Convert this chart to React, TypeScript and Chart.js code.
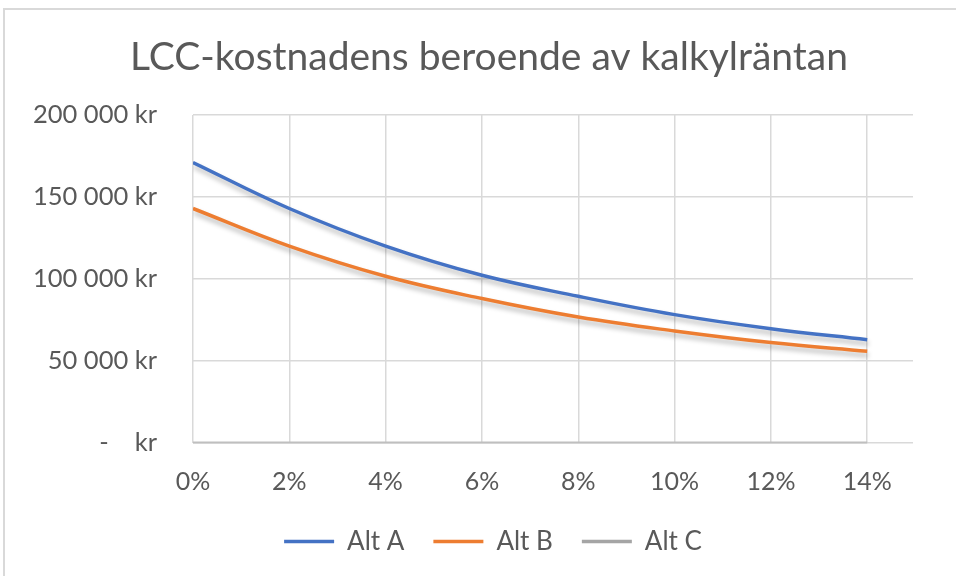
import React, { useEffect, useRef } from 'react';
import { Chart, registerables } from 'chart.js';

Chart.register(...registerables);

const chartTitle = 'LCC-kostnadens beroende av kalkylräntan';
const rates = [0, 2, 4, 6, 8, 10, 12, 14];
const altA = [171000, 142900, 119900, 102100, 89300, 78100, 69500, 62800];
const altB = [142900, 119900, 101500, 87900, 76600, 68100, 61000, 55700];
const altC: number[] = [];
const seriesNames = ['Alt A', 'Alt B', 'Alt C'];
const seriesColors = ['#4472C4', '#ED7D31', '#A5A5A5'];
const yTickValues = [0, 50000, 100000, 150000, 200000];

const FONT = 'Lato, "Open Sans", sans-serif';
const TEXT = '#595959';

function fmtKr(v: number): string {
  if (v === 0) return '-    kr';
  return String(v).replace(/\B(?=(\d{3})+(?!\d))/g, ' ') + ' kr';
}

const shadowPlugin = {
  id: 'lineShadow',
  beforeDatasetDraw(chart: any) {
    const ctx = chart.ctx;
    ctx.save();
    ctx.shadowColor = 'rgba(0,0,0,0.28)';
    ctx.shadowBlur = 5;
    ctx.shadowOffsetX = 1;
    ctx.shadowOffsetY = 4;
  },
  afterDatasetDraw(chart: any) {
    chart.ctx.restore();
  },
};

const axisLinePlugin = {
  id: 'axisLine',
  beforeDatasetsDraw(chart: any) {
    const { ctx, scales } = chart;
    const x = scales.x;
    const y = scales.y;
    const y0 = y.getPixelForValue(0);
    ctx.save();
    ctx.strokeStyle = '#BFBFBF';
    ctx.lineWidth = 2;
    ctx.beginPath();
    ctx.moveTo(x.getPixelForValue(rates[0]), y0);
    ctx.lineTo(x.getPixelForValue(rates[rates.length - 1]), y0);
    ctx.stroke();
    ctx.restore();
  },
};

// Centre title and legend on the whole chart frame rather than only the plot's width
const centrePlugin = {
  id: 'centreBlocks',
  afterLayout(chart: any) {
    if (chart.titleBlock) {
      chart.titleBlock.left = 22;
      chart.titleBlock.right = chart.width;
    }
    if (chart.legend) {
      chart.legend.left = 30;
      chart.legend.right = chart.width;
    }
  },
};

export default function App() {
  const ref = useRef<HTMLCanvasElement | null>(null);

  useEffect(() => {
    document.body.style.margin = '0';
    const canvas = ref.current;
    if (!canvas) return;
    const series = [altA, altB, altC];
    const chart = new Chart(canvas, {
      type: 'line',
      data: {
        datasets: series.map((s, i) => ({
          label: seriesNames[i],
          data: s.map((v, j) => ({ x: rates[j], y: v })),
          borderColor: seriesColors[i],
          backgroundColor: seriesColors[i],
          borderWidth: 3.5,
          pointRadius: 0,
          tension: 0.4,
          fill: false,
        })),
      },
      options: {
        animation: false,
        responsive: false,
        maintainAspectRatio: false,
        layout: { padding: { left: 0, right: 43, top: 0, bottom: 11.5 } },
        plugins: {
          title: {
            display: true,
            text: chartTitle,
            color: TEXT,
            font: { family: FONT, size: 39, weight: 'normal', lineHeight: 1.2 },
            padding: { top: 33.6, bottom: 34.6 },
          },
          legend: {
            position: 'bottom',
            labels: {
              color: TEXT,
              font: { family: FONT, size: 26 },
              usePointStyle: true,
              pointStyleWidth: 50,
              pointStyle: 'line',
              boxHeight: 20,
              padding: 29,
            },
          },
          tooltip: { enabled: false },
        },
        scales: {
          x: {
            type: 'linear',
            min: 0,
            max: 14.95,
            afterBuildTicks: (scale: any) => {
              scale.ticks = rates.map((v) => ({ value: v }));
            },
            afterFit: (scale: any) => {
              scale.height = 57;
            },
            ticks: {
              color: TEXT,
              font: { family: FONT, size: 25 },
              padding: 24,
              callback: (v: any) => v + '%',
              maxRotation: 0,
            },
            grid: { color: '#D9D9D9', lineWidth: 1.5, drawTicks: false },
            border: { display: false },
          },
          y: {
            min: 0,
            max: 200000,
            afterBuildTicks: (scale: any) => {
              scale.ticks = yTickValues.map((v) => ({ value: v }));
            },
            afterFit: (scale: any) => {
              scale.width = 193;
            },
            ticks: {
              color: TEXT,
              font: { family: FONT, size: 25.5 },
              padding: 36,
              callback: (v: any) => fmtKr(Number(v)),
            },
            grid: { color: '#D9D9D9', lineWidth: 1.5, drawTicks: false },
            border: { display: false },
          },
        },
      },
      plugins: [shadowPlugin, axisLinePlugin, centrePlugin],
    } as any);
    return () => chart.destroy();
  }, []);

  return (
    <div style={{ position: 'relative', width: 956, height: 576, overflow: 'hidden', background: '#fff' }}>
      <canvas ref={ref} width={956} height={576} style={{ display: 'block', width: 956, height: 576 }} />
      <div
        style={{
          position: 'absolute',
          left: 3,
          top: 8,
          width: 1000,
          height: 700,
          borderLeft: '2px solid #D9D9D9',
          borderTop: '2px solid #D9D9D9',
          pointerEvents: 'none',
        }}
      />
    </div>
  );
}
